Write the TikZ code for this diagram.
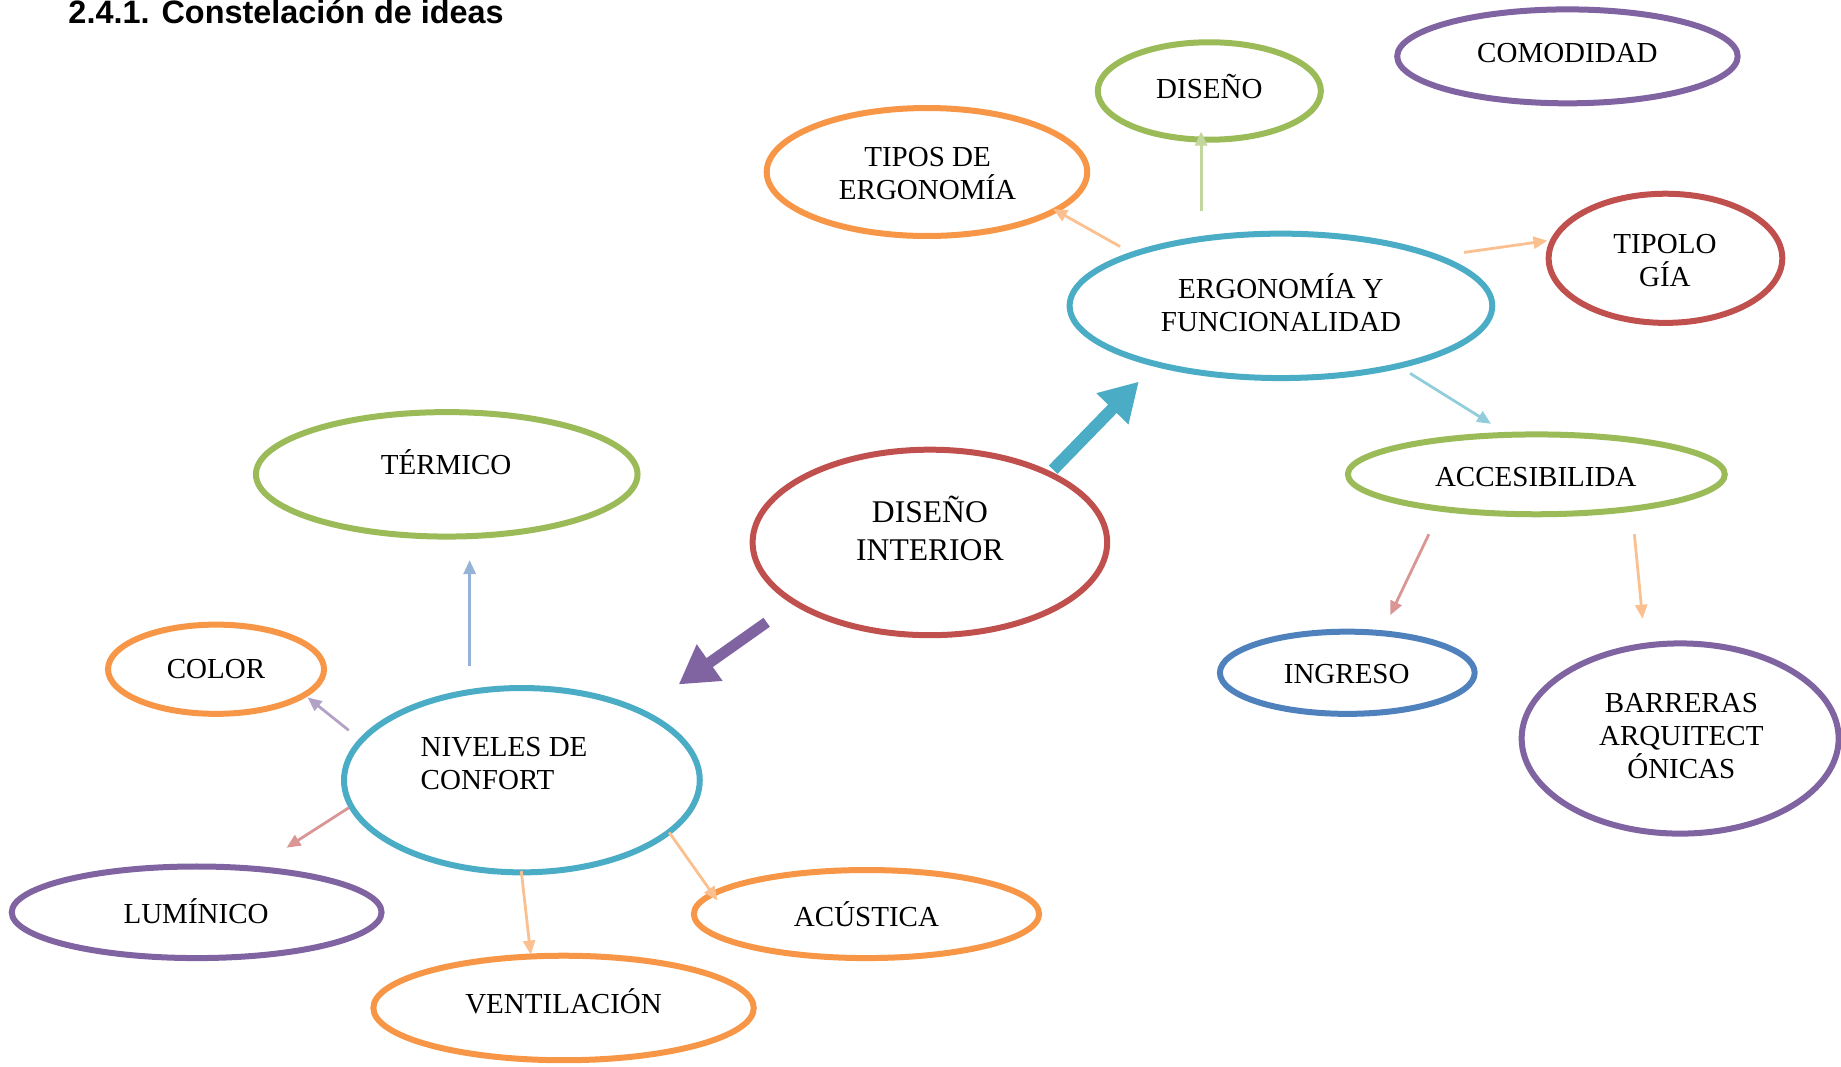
\documentclass[tikz,border=0pt]{standalone}
\usepackage{fontspec}
\setmainfont{Liberation Serif}
\newfontfamily\titlefont{Liberation Sans}
\usetikzlibrary{shapes.geometric,arrows.meta}
\definecolor{cOrange}{HTML}{F79646}
\definecolor{cGreen}{HTML}{9BBB59}
\definecolor{cPurple}{HTML}{8064A2}
\definecolor{cTeal}{HTML}{4BACC6}
\definecolor{cRed}{HTML}{C0504D}
\definecolor{cBlue}{HTML}{4F81BD}
\definecolor{lOrange}{HTML}{FAC090}
\definecolor{lGreen}{HTML}{C3D69B}
\definecolor{lTeal}{HTML}{92CDDC}
\definecolor{lRed}{HTML}{D99694}
\definecolor{lPurple}{HTML}{B3A2C7}
\definecolor{lBlue}{HTML}{95B3D7}
\tikzset{
  ell/.style n args={3}{ellipse, draw=#1, line width=3pt, inner sep=0pt,
    minimum width={#2*2*0.587pt}, minimum height={#3*2*0.587pt}},
  lbl/.style={font=\fontsize{14.5}{16.6}\selectfont, align=center, inner sep=0pt, text=black},
  thin/.style={draw=#1, line width=1.4pt, -{Triangle[length=7pt,width=6pt]}},
  big/.style={draw=#1, line width=6pt, -{Triangle[length=19pt,width=21pt]}},
}
\begin{document}
\begin{tikzpicture}[x=0.587pt, y=-0.587pt]
\useasboundingbox (0,0) rectangle (1568,908);
\node[anchor=base west, inner sep=0pt, font=\titlefont\bfseries\fontsize{16.2}{19}\selectfont] (title) at (58,20) {2.4.1. Constelación de ideas};

% ellipses
\node[ell={cOrange}{136.5}{54.5}] (tipos) at (789.5,146.5) {};
\node[ell={cGreen}{95}{41.5}] (dis) at (1030,77.5) {};
\node[ell={cPurple}{145}{40}] (com) at (1335,48) {};
\node[ell={cTeal}{180}{61.5}] (ergo) at (1091,260.5) {};
\node[ell={cRed}{99.5}{55}] (tipol) at (1418.5,220) {};
\node[ell={cGreen}{160.5}{34}] (acc) at (1308.5,404) {};
\node[ell={cBlue}{108.5}{35}] (ing) at (1147.5,573) {};
\node[ell={cPurple}{135}{81}] (bar) at (1431,629) {};
\node[ell={cRed}{151}{79}] (di) at (792,462) {};
\node[ell={cGreen}{162.5}{53}] (ter) at (380.5,404) {};
\node[ell={cOrange}{92}{38}] (col) at (184,570) {};
\node[ell={cTeal}{151.5}{78.5}] (niv) at (444.5,664.5) {};
\node[ell={cPurple}{157.5}{39}] (lum) at (167.5,777) {};
\node[ell={cOrange}{162}{44.5}] (ven) at (480,858.5) {};
\node[ell={cOrange}{147}{37.5}] (acu) at (738,778.5) {};

% texts
\node[lbl] (tipos-t) at (790,148) {TIPOS DE\\ERGONOMÍA};
\node[lbl] (dis-t) at (1030,74) {DISEÑO};
\node[lbl] (com-t) at (1335,45) {COMODIDAD};
\node[lbl] (ergo-t) at (1091,258) {ERGONOMÍA Y\\FUNCIONALIDAD};
\node[lbl] (tipol-t) at (1418,222) {TIPOLO\\GÍA};
\node[lbl] (acc-t) at (1308,406) {ACCESIBILIDA};
\node[lbl] (ing-t) at (1147,574) {INGRESO};
\node[lbl] (bar-t) at (1432,627) {BARRERAS\\ARQUITECT\\ÓNICAS};
\node[lbl, font=\fontsize{15.8}{18.6}\selectfont] (di-t) at (792,450) {DISEÑO\\INTERIOR};
\node[lbl] (ter-t) at (380,394) {TÉRMICO};
\node[lbl] (col-t) at (184,570) {COLOR};
\node[lbl, align=left, anchor=west] (niv-t) at (358,650) {NIVELES DE\\CONFORT};
\node[lbl] (lum-t) at (167,776) {LUMÍNICO};
\node[lbl] (ven-t) at (480,853) {VENTILACIÓN};
\node[lbl] (acu-t) at (738,779) {ACÚSTICA};

% arrow end points
\coordinate (a1s) at (954,210); \coordinate (a1e) at (897,178);
\coordinate (a2s) at (1023,180); \coordinate (a2e) at (1023,112);
\coordinate (a3s) at (1247,215); \coordinate (a3e) at (1318,205);
\coordinate (a4s) at (1201,318); \coordinate (a4e) at (1270,361);
\coordinate (a5s) at (1217,455); \coordinate (a5e) at (1184,524);
\coordinate (a6s) at (1392,455); \coordinate (a6e) at (1399,527);
\coordinate (b1s) at (897,400); \coordinate (b1e) at (970,325);
\coordinate (b2s) at (653,530); \coordinate (b2e) at (578,583);
\coordinate (n1s) at (400,567); \coordinate (n1e) at (400,477);
\coordinate (n2s) at (297,622); \coordinate (n2e) at (262,594);
\coordinate (n3s) at (297,688); \coordinate (n3e) at (244,722);
\coordinate (n4s) at (444,742); \coordinate (n4e) at (452,813);
\coordinate (n5s) at (570,709); \coordinate (n5e) at (611,767);

\draw[thin=lOrange] (a1s) -- (a1e);
\draw[thin=lGreen] (a2s) -- (a2e);
\draw[thin=lOrange] (a3s) -- (a3e);
\draw[thin=lTeal] (a4s) -- (a4e);
\draw[thin=lRed] (a5s) -- (a5e);
\draw[thin=lOrange] (a6s) -- (a6e);
\draw[big=cTeal] (b1s) -- (b1e);
\draw[big=cPurple, line width=5.5pt] (b2s) -- (b2e);
\draw[thin=lBlue] (n1s) -- (n1e);
\draw[thin=lPurple] (n2s) -- (n2e);
\draw[thin=lRed] (n3s) -- (n3e);
\draw[thin=lOrange] (n4s) -- (n4e);
\draw[thin=lOrange] (n5s) -- (n5e);
\end{tikzpicture}
\end{document}
